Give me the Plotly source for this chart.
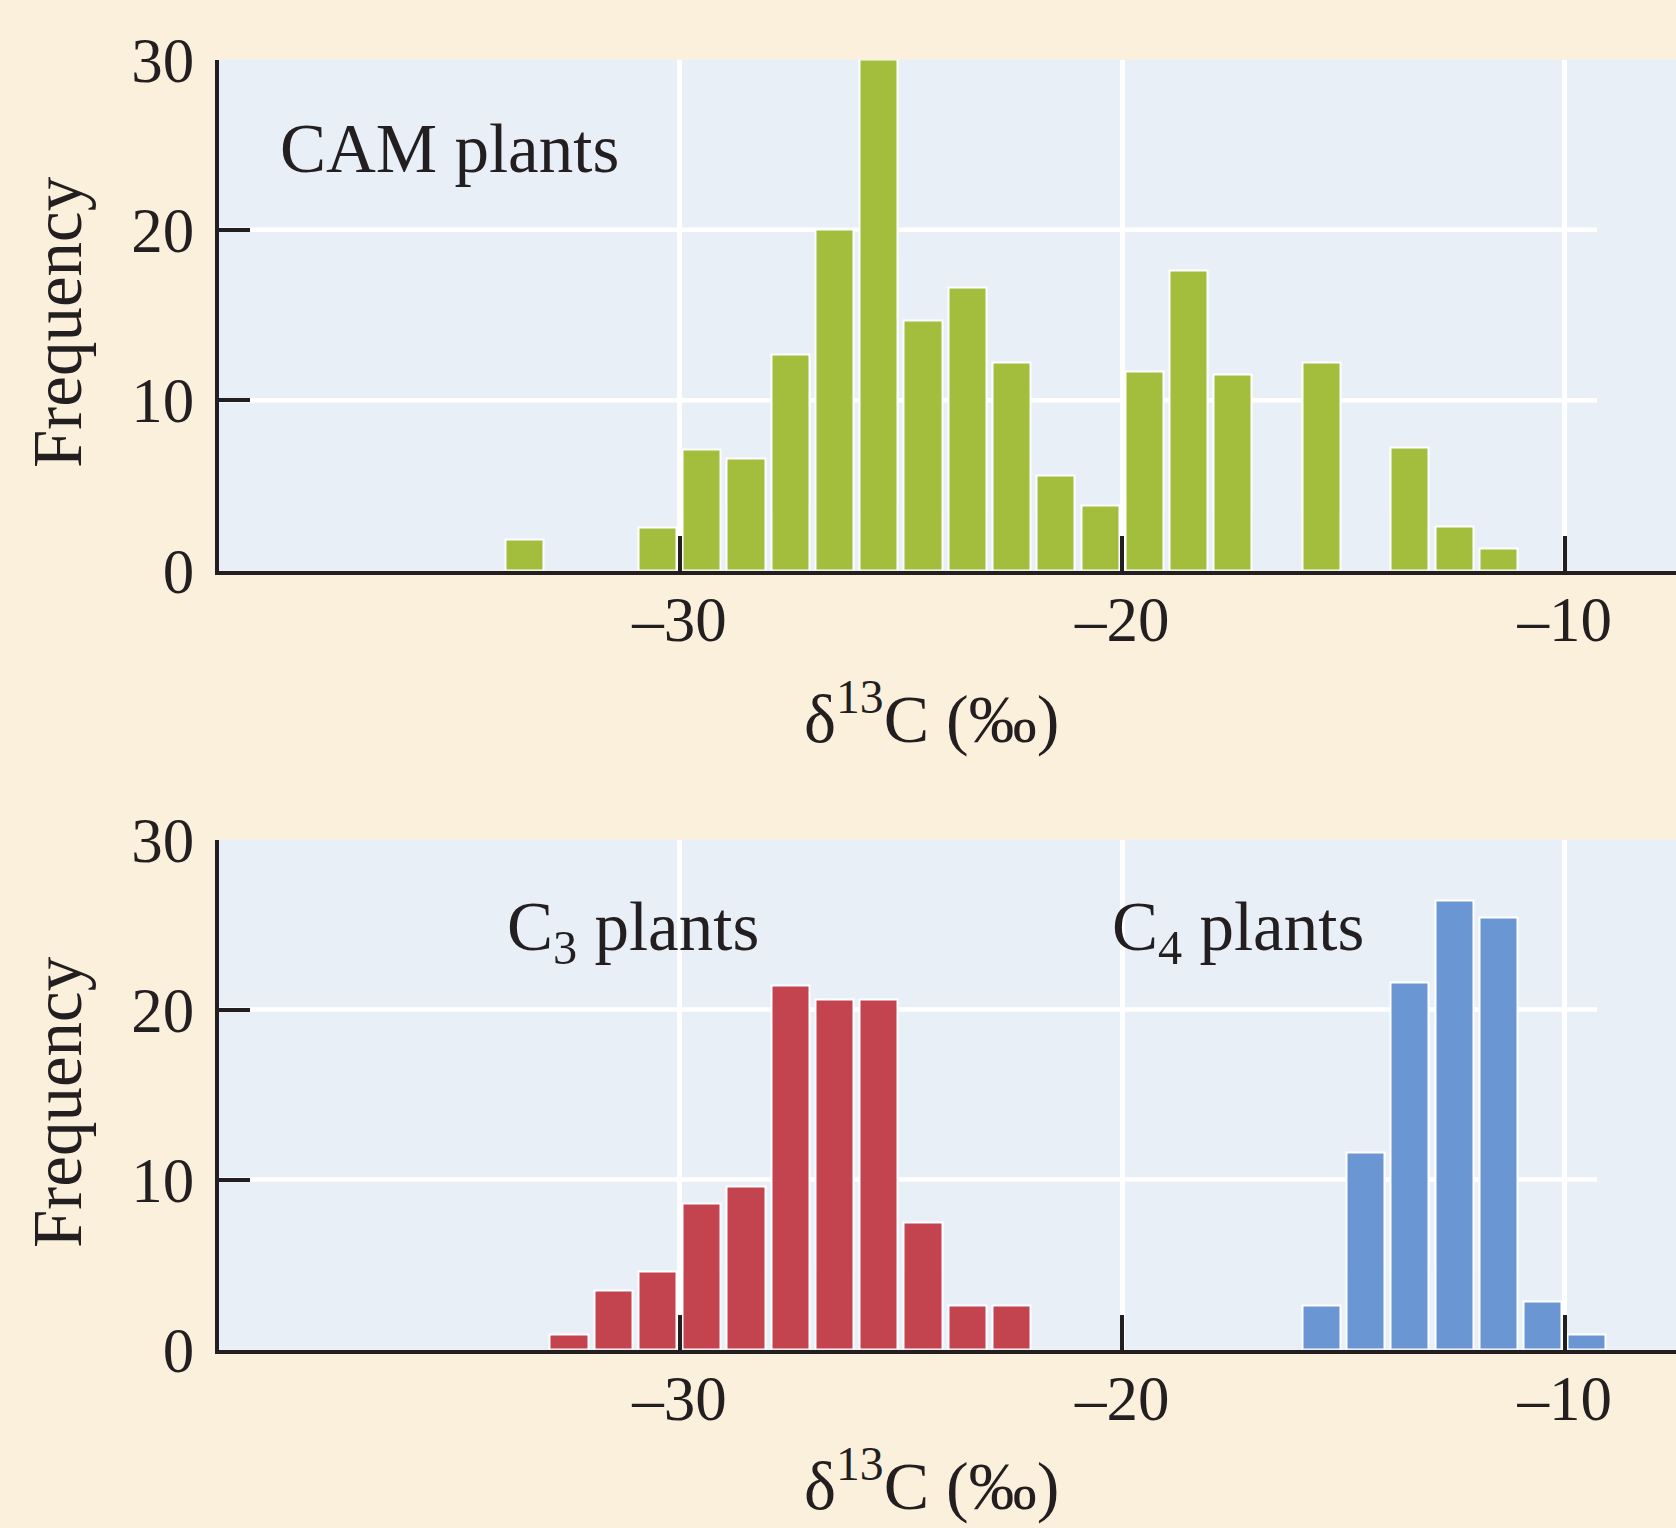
import plotly.graph_objects as go

# ---- data: frequency counts in 1 ‰ bins (bin centres) ----
cam_bins = [-33.5, -30.5, -29.5, -28.5, -27.5, -26.5, -25.5, -24.5, -23.5, -22.5,
            -21.5, -20.5, -19.5, -18.5, -17.5, -15.5, -13.5, -12.5, -11.5]
cam_freq = [1.8, 2.5, 7.1, 6.6, 12.7, 20.0, 30.0, 14.7, 16.6, 12.2,
            5.6, 3.8, 11.7, 17.6, 11.5, 12.2, 7.2, 2.6, 1.3]

c3_bins = [-32.5, -31.5, -30.5, -29.5, -28.5, -27.5, -26.5, -25.5, -24.5, -23.5, -22.5]
c3_freq = [0.9, 3.5, 4.6, 8.6, 9.6, 21.4, 20.6, 20.6, 7.5, 2.6, 2.6]

c4_bins = [-15.5, -14.5, -13.5, -12.5, -11.5, -10.5, -9.5]
c4_freq = [2.6, 11.6, 21.6, 26.4, 25.4, 2.8, 0.9]

x_ticks = [-30, -20, -10]
x_tick_text = ["\u201330", "\u201320", "\u201310"]
y_ticks = [0, 10, 20, 30]
y_tick_text = ["0", "10", "20", "30"]

# ---- styling ----
W, H = 1676, 1528
PAPER = "#fbf0dc"
PLOT_BG = "#e8eff7"
INK = "#231f20"
GREEN = "#a3be3c"
RED = "#c3434f"
BLUE = "#6a97d3"
FONT = "Liberation Serif"
X_RANGE = [-40.42, -7.485]
GRID_END = -9.27


def px_x(p):
    return p / W


def px_y(p):
    return 1 - p / H


fig = go.Figure()

bar_style = dict(width=0.86, marker_line=dict(color="white", width=2), showlegend=False,
                 hoverinfo="x+y")
fig.add_trace(go.Bar(x=cam_bins, y=cam_freq, marker_color=GREEN, xaxis="x", yaxis="y", **bar_style))
fig.add_trace(go.Bar(x=c3_bins, y=c3_freq, marker_color=RED, xaxis="x2", yaxis="y2", **bar_style))
fig.add_trace(go.Bar(x=c4_bins, y=c4_freq, marker_color=BLUE, xaxis="x2", yaxis="y2", **bar_style))

x_common = dict(
    range=X_RANGE, domain=[px_x(218.5), 1.0], automargin=False,
    tickvals=x_ticks, ticktext=x_tick_text,
    ticks="inside", ticklen=35, tickwidth=3.5, tickcolor=INK,
    showline=True, linecolor=INK, linewidth=3.5,
    showgrid=True, gridcolor="white", gridwidth=4.5,
    zeroline=False, ticklabelstandoff=-9,
    tickfont=dict(family=FONT, size=63, color=INK),
    fixedrange=True,
)
y_common = dict(
    range=[0, 30], tickvals=y_ticks, ticktext=y_tick_text, automargin=False,
    ticks="inside", ticklen=32, tickwidth=3.5, tickcolor=INK,
    showline=True, linecolor=INK, linewidth=3.5,
    showgrid=False, zeroline=False, ticklabelstandoff=8,
    tickfont=dict(family=FONT, size=63, color=INK),
    fixedrange=True,
)

fig.update_layout(
    width=W, height=H,
    margin=dict(l=0, r=0, t=0, b=0, pad=0),
    paper_bgcolor=PAPER, plot_bgcolor=PLOT_BG,
    bargap=0, barmode="overlay",
    xaxis=dict(anchor="y", **x_common),
    yaxis=dict(anchor="x", domain=[px_y(570.5), px_y(59.5)], **y_common),
    xaxis2=dict(anchor="y2", **x_common),
    yaxis2=dict(anchor="x2", domain=[px_y(1349.5), px_y(839.5)], **y_common),
)

# horizontal white grid lines, stopping short of the right edge
shapes = []
for yref, xref in (("y", "x"), ("y2", "x2")):
    for v in (10, 20):
        shapes.append(dict(type="line", xref=xref, yref=yref, x0=X_RANGE[0], x1=GRID_END,
                           y0=v, y1=v, line=dict(color="white", width=4.5), layer="below"))
fig.update_layout(shapes=shapes)

label_font = dict(family=FONT, size=69, color=INK)
title_font = dict(family=FONT, size=68, color=INK)
annotations = [
    # panel labels
    dict(text="CAM plants", x=px_x(278), y=px_y(149), xanchor="left", yanchor="middle", font=label_font),
    dict(text="C<sub>3</sub> plants", x=px_x(505), y=px_y(931), xanchor="left", yanchor="middle", font=label_font),
    dict(text="C<sub>4</sub> plants", x=px_x(1110), y=px_y(931), xanchor="left", yanchor="middle", font=label_font),
    # axis titles
    dict(text="Frequency", x=px_x(58), y=px_y(322), textangle=-90, xanchor="center", yanchor="middle", font=label_font),
    dict(text="Frequency", x=px_x(58), y=px_y(1102), textangle=-90, xanchor="center", yanchor="middle", font=label_font),
    dict(text="\u03b4<sup>13</sup>C (\u2030)", x=px_x(931), y=px_y(714), xanchor="center", yanchor="middle", font=title_font),
    dict(text="\u03b4<sup>13</sup>C (\u2030)", x=px_x(931), y=1 - 1528.0 / H, xanchor="center", yanchor="bottom",
         yshift=2, font=title_font),
]
for a in annotations:
    a.update(xref="paper", yref="paper", showarrow=False)
fig.update_layout(annotations=annotations)

fig.write_html("out.html", config={"displayModeBar": False})
